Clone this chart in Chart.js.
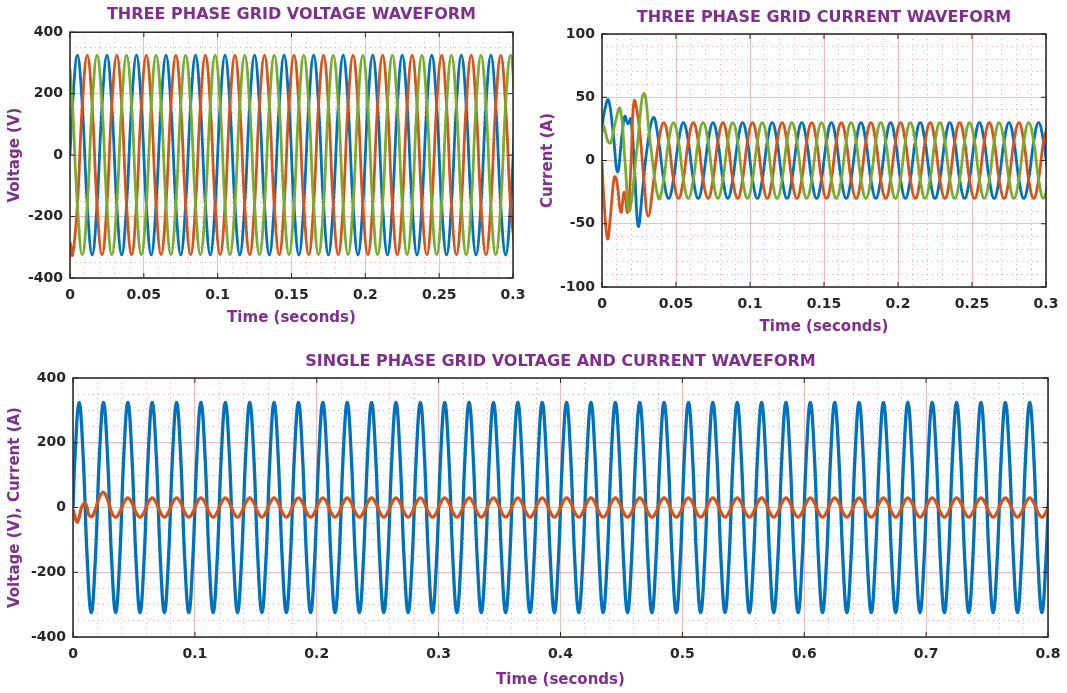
<!DOCTYPE html>
<html>
<head>
<meta charset="utf-8">
<script src="https://cdn.jsdelivr.net/npm/chart.js@4.4.1/dist/chart.umd.min.js"></script>
<style>
  html, body { margin: 0; background: #fff; }
  #page { position: relative; width: 1067px; height: 693px; overflow: hidden; background: #fff; }
  canvas { position: absolute; }
</style>
</head>
<body>
<div id="page">
  <canvas id="tl" width="530" height="340" style="left:0;top:0"></canvas>
  <canvas id="tr" width="537" height="345" style="left:530px;top:0"></canvas>
  <canvas id="bt" width="1067" height="348" style="left:0;top:345px"></canvas>
</div>
<script>
// sample instants in ms: t=0, then every 60 deg of the 50 Hz wave (offset 30 deg)
var tSample = [0,
  1.7, 5, 8.3, 11.7, 15, 18.3,
  21.7, 25, 28.3, 31.7, 35, 38.3,
  41.7, 45, 48.3, 51.7, 55, 58.3,
  61.7, 65, 68.3, 71.7, 75, 78.3,
  81.7, 85, 88.3, 91.7, 95, 98.3,
  101.7, 105, 108.3, 111.7, 115, 118.3,
  121.7, 125, 128.3, 131.7, 135, 138.3,
  141.7, 145, 148.3, 151.7, 155, 158.3,
  161.7, 165, 168.3, 171.7, 175, 178.3,
  181.7, 185, 188.3, 191.7, 195, 198.3,
  201.7, 205, 208.3, 211.7, 215, 218.3,
  221.7, 225, 228.3, 231.7, 235, 238.3,
  241.7, 245, 248.3, 251.7, 255, 258.3,
  261.7, 265, 268.3, 271.7, 275, 278.3,
  281.7, 285, 288.3, 291.7, 295, 298.3,
  301.7, 305, 308.3, 311.7, 315, 318.3,
  321.7, 325, 328.3, 331.7, 335, 338.3,
  341.7, 345, 348.3, 351.7, 355, 358.3,
  361.7, 365, 368.3, 371.7, 375, 378.3,
  381.7, 385, 388.3, 391.7, 395, 398.3,
  401.7, 405, 408.3, 411.7, 415, 418.3,
  421.7, 425, 428.3, 431.7, 435, 438.3,
  441.7, 445, 448.3, 451.7, 455, 458.3,
  461.7, 465, 468.3, 471.7, 475, 478.3,
  481.7, 485, 488.3, 491.7, 495, 498.3,
  501.7, 505, 508.3, 511.7, 515, 518.3,
  521.7, 525, 528.3, 531.7, 535, 538.3,
  541.7, 545, 548.3, 551.7, 555, 558.3,
  561.7, 565, 568.3, 571.7, 575, 578.3,
  581.7, 585, 588.3, 591.7, 595, 598.3,
  601.7, 605, 608.3, 611.7, 615, 618.3,
  621.7, 625, 628.3, 631.7, 635, 638.3,
  641.7, 645, 648.3, 651.7, 655, 658.3,
  661.7, 665, 668.3, 671.7, 675, 678.3,
  681.7, 685, 688.3, 691.7, 695, 698.3,
  701.7, 705, 708.3, 711.7, 715, 718.3,
  721.7, 725, 728.3, 731.7, 735, 738.3,
  741.7, 745, 748.3, 751.7, 755, 758.3,
  761.7, 765, 768.3, 771.7, 775, 778.3,
  781.7, 785, 788.3, 791.7, 795, 798.3,
  801.7];

// grid voltages, V (first 92 samples)
var vaGrid = [0,
  162, 325, 162, -162, -325, -162,
  162, 325, 162, -162, -325, -162,
  162, 325, 162, -162, -325, -162,
  162, 325, 162, -162, -325, -162,
  162, 325, 162, -162, -325, -162,
  162, 325, 162, -162, -325, -162,
  162, 325, 162, -162, -325, -162,
  162, 325, 162, -162, -325, -162,
  162, 325, 162, -162, -325, -162,
  162, 325, 162, -162, -325, -162,
  162, 325, 162, -162, -325, -162,
  162, 325, 162, -162, -325, -162,
  162, 325, 162, -162, -325, -162,
  162, 325, 162, -162, -325, -162,
  162, 325, 162, -162, -325, -162,
  162];
var vbGrid = [-281,
  -325, -162, 162, 325, 162, -162,
  -325, -162, 162, 325, 162, -162,
  -325, -162, 162, 325, 162, -162,
  -325, -162, 162, 325, 162, -162,
  -325, -162, 162, 325, 162, -162,
  -325, -162, 162, 325, 162, -162,
  -325, -162, 162, 325, 162, -162,
  -325, -162, 162, 325, 162, -162,
  -325, -162, 162, 325, 162, -162,
  -325, -162, 162, 325, 162, -162,
  -325, -162, 162, 325, 162, -162,
  -325, -162, 162, 325, 162, -162,
  -325, -162, 162, 325, 162, -162,
  -325, -162, 162, 325, 162, -162,
  -325, -162, 162, 325, 162, -162,
  -325];
var vcGrid = [281,
  162, -162, -325, -162, 162, 325,
  162, -162, -325, -162, 162, 325,
  162, -162, -325, -162, 162, 325,
  162, -162, -325, -162, 162, 325,
  162, -162, -325, -162, 162, 325,
  162, -162, -325, -162, 162, 325,
  162, -162, -325, -162, 162, 325,
  162, -162, -325, -162, 162, 325,
  162, -162, -325, -162, 162, 325,
  162, -162, -325, -162, 162, 325,
  162, -162, -325, -162, 162, 325,
  162, -162, -325, -162, 162, 325,
  162, -162, -325, -162, 162, 325,
  162, -162, -325, -162, 162, 325,
  162, -162, -325, -162, 162, 325,
  162];

// grid currents, A: start-up transient (own instants, ms) ...
var iaStartT = [0, 1.5, 4.3, 7.5, 10.5, 13.5, 15.5, 17.5, 19.5, 22, 24.5, 27.5, 30.5, 34.7, 38.3];
var iaStartV = [25, 38, 48, 22, -9, 20, 35, 29, 33, -8, -52, -22, 10, 34, 15];
var ibStartT = [0, 1.5, 3.8, 6, 8.3, 9.8, 12.8, 15, 17.3, 19.5, 21.7, 25, 28.3, 31.2, 35, 38.3];
var ibStartV = [-2, -35, -62, -40, -13, -15, -41, -25, -41, -5, 47, 28, -15, -44, -15, 15];
var icStartT = [0, 1.2, 4, 6, 8.5, 12.2, 15.5, 18.5, 23.5, 28.3, 33, 38.3];
var icStartV = [22, 27, 15, 14, 28, 41, 0, -40, 8, 53, 10, -30];
// ... then steady state on tSample from 41.7 ms
var iaSteady = [
  -15, -30, -15, 15, 30, 15,
  -15, -30, -15, 15, 30, 15,
  -15, -30, -15, 15, 30, 15,
  -15, -30, -15, 15, 30, 15,
  -15, -30, -15, 15, 30, 15,
  -15, -30, -15, 15, 30, 15,
  -15, -30, -15, 15, 30, 15,
  -15, -30, -15, 15, 30, 15,
  -15, -30, -15, 15, 30, 15,
  -15, -30, -15, 15, 30, 15,
  -15, -30, -15, 15, 30, 15,
  -15, -30, -15, 15, 30, 15,
  -15, -30, -15, 15, 30, 15,
  -15];
var ibSteady = [
  30, 15, -15, -30, -15, 15,
  30, 15, -15, -30, -15, 15,
  30, 15, -15, -30, -15, 15,
  30, 15, -15, -30, -15, 15,
  30, 15, -15, -30, -15, 15,
  30, 15, -15, -30, -15, 15,
  30, 15, -15, -30, -15, 15,
  30, 15, -15, -30, -15, 15,
  30, 15, -15, -30, -15, 15,
  30, 15, -15, -30, -15, 15,
  30, 15, -15, -30, -15, 15,
  30, 15, -15, -30, -15, 15,
  30, 15, -15, -30, -15, 15,
  30];
var icSteady = [
  -15, 15, 30, 15, -15, -30,
  -15, 15, 30, 15, -15, -30,
  -15, 15, 30, 15, -15, -30,
  -15, 15, 30, 15, -15, -30,
  -15, 15, 30, 15, -15, -30,
  -15, 15, 30, 15, -15, -30,
  -15, 15, 30, 15, -15, -30,
  -15, 15, 30, 15, -15, -30,
  -15, 15, 30, 15, -15, -30,
  -15, 15, 30, 15, -15, -30,
  -15, 15, 30, 15, -15, -30,
  -15, 15, 30, 15, -15, -30,
  -15, 15, 30, 15, -15, -30,
  -15];

// single phase: voltage on all of tSample, current transient + steady
var v1Grid = [0,
  162, 325, 162, -162, -325, -162,
  162, 325, 162, -162, -325, -162,
  162, 325, 162, -162, -325, -162,
  162, 325, 162, -162, -325, -162,
  162, 325, 162, -162, -325, -162,
  162, 325, 162, -162, -325, -162,
  162, 325, 162, -162, -325, -162,
  162, 325, 162, -162, -325, -162,
  162, 325, 162, -162, -325, -162,
  162, 325, 162, -162, -325, -162,
  162, 325, 162, -162, -325, -162,
  162, 325, 162, -162, -325, -162,
  162, 325, 162, -162, -325, -162,
  162, 325, 162, -162, -325, -162,
  162, 325, 162, -162, -325, -162,
  162, 325, 162, -162, -325, -162,
  162, 325, 162, -162, -325, -162,
  162, 325, 162, -162, -325, -162,
  162, 325, 162, -162, -325, -162,
  162, 325, 162, -162, -325, -162,
  162, 325, 162, -162, -325, -162,
  162, 325, 162, -162, -325, -162,
  162, 325, 162, -162, -325, -162,
  162, 325, 162, -162, -325, -162,
  162, 325, 162, -162, -325, -162,
  162, 325, 162, -162, -325, -162,
  162, 325, 162, -162, -325, -162,
  162, 325, 162, -162, -325, -162,
  162, 325, 162, -162, -325, -162,
  162, 325, 162, -162, -325, -162,
  162, 325, 162, -162, -325, -162,
  162, 325, 162, -162, -325, -162,
  162, 325, 162, -162, -325, -162,
  162, 325, 162, -162, -325, -162,
  162, 325, 162, -162, -325, -162,
  162, 325, 162, -162, -325, -162,
  162, 325, 162, -162, -325, -162,
  162, 325, 162, -162, -325, -162,
  162, 325, 162, -162, -325, -162,
  162, 325, 162, -162, -325, -162,
  162];
var i1StartT = [0, 1.7, 3.3, 5, 7, 9.5, 11, 13, 15.5, 18.5, 21.7, 25, 28.3, 31.7, 35, 38.3];
var i1StartV = [-5, -30, -45, -32, 0, 14, 6, -22, -28, -5, 32, 47, 25, -15, -30, -15];
var i1Steady = [
  15, 30, 15, -15, -30, -15,
  15, 30, 15, -15, -30, -15,
  15, 30, 15, -15, -30, -15,
  15, 30, 15, -15, -30, -15,
  15, 30, 15, -15, -30, -15,
  15, 30, 15, -15, -30, -15,
  15, 30, 15, -15, -30, -15,
  15, 30, 15, -15, -30, -15,
  15, 30, 15, -15, -30, -15,
  15, 30, 15, -15, -30, -15,
  15, 30, 15, -15, -30, -15,
  15, 30, 15, -15, -30, -15,
  15, 30, 15, -15, -30, -15,
  15, 30, 15, -15, -30, -15,
  15, 30, 15, -15, -30, -15,
  15, 30, 15, -15, -30, -15,
  15, 30, 15, -15, -30, -15,
  15, 30, 15, -15, -30, -15,
  15, 30, 15, -15, -30, -15,
  15, 30, 15, -15, -30, -15,
  15, 30, 15, -15, -30, -15,
  15, 30, 15, -15, -30, -15,
  15, 30, 15, -15, -30, -15,
  15, 30, 15, -15, -30, -15,
  15, 30, 15, -15, -30, -15,
  15, 30, 15, -15, -30, -15,
  15, 30, 15, -15, -30, -15,
  15, 30, 15, -15, -30, -15,
  15, 30, 15, -15, -30, -15,
  15, 30, 15, -15, -30, -15,
  15, 30, 15, -15, -30, -15,
  15, 30, 15, -15, -30, -15,
  15, 30, 15, -15, -30, -15,
  15, 30, 15, -15, -30, -15,
  15, 30, 15, -15, -30, -15,
  15, 30, 15, -15, -30, -15,
  15, 30, 15, -15, -30, -15,
  15, 30, 15, -15, -30, -15,
  15];
var STEADY_FROM = 13; // index of 41.7 ms in tSample

var xLabels3 = ['0', '0.05', '0.1', '0.15', '0.2', '0.25', '0.3'];
var xLabels8 = ['0', '0.1', '0.2', '0.3', '0.4', '0.5', '0.6', '0.7', '0.8'];
var vLabels = ['-400', '-200', '0', '200', '400'];
var iLabels = ['-100', '-50', '0', '50', '100'];

var BLUE = '#0072BD', ORANGE = '#D95319', GREEN = '#77AC30';
var PURPLE = '#7E2F8E', INK = '#262626';
var FONT = "'DejaVu Sans', sans-serif";

function onSample(vals, from) {
  return vals.map(function (v, i) { return {x: tSample[from + i], y: v}; });
}
function zip(ts, vs) {
  return ts.map(function (t, i) { return {x: t, y: vs[i]}; });
}

var framePlugin = {
  id: 'frame',
  afterDraw: function (chart, args, opts) {
    var ctx = chart.ctx, a = chart.chartArea, sx = chart.scales.x, sy = chart.scales.y;
    ctx.save();
    ctx.strokeStyle = INK;
    ctx.lineWidth = 1;
    ctx.beginPath();
    for (var v = sx.min; v <= sx.max + 1e-9; v += opts.xMajor) {
      var px = sx.getPixelForValue(v);
      ctx.moveTo(px, a.bottom); ctx.lineTo(px, a.bottom - 5);
      ctx.moveTo(px, a.top); ctx.lineTo(px, a.top + 5);
    }
    for (var w = sy.min; w <= sy.max + 1e-9; w += opts.yMajor) {
      var py = sy.getPixelForValue(w);
      ctx.moveTo(a.left, py); ctx.lineTo(a.left + 5, py);
      ctx.moveTo(a.right, py); ctx.lineTo(a.right - 5, py);
    }
    ctx.stroke();
    ctx.lineWidth = 1.5;
    ctx.strokeRect(a.left, a.top, a.right - a.left, a.bottom - a.top);
    ctx.restore();
  }
};

function gridFor(major, min) {
  var isMajor = function (ctx) { return ctx.tick && (ctx.tick.value - min) % major === 0; };
  return {
    grid: {
      drawTicks: false,
      lineWidth: 1,
      color: function (ctx) { return isMajor(ctx) ? 'rgba(230,90,90,0.42)' : 'rgba(240,100,110,0.55)'; }
    },
    border: {
      display: false,
      dash: function (ctx) { return ctx.tick && !isMajor(ctx) ? [1, 4] : []; }
    }
  };
}

function waveChart(id, o) {
  var xg = gridFor(o.xMajor, 0), yg = gridFor(o.yMajor, o.yMin);
  new Chart(document.getElementById(id), {
    type: 'line',
    data: {
      datasets: o.series.map(function (s) {
        return {
          data: s.pts, borderColor: s.color, borderWidth: o.lw,
          pointRadius: 0, fill: false, order: s.order,
          tension: 0.42
        };
      })
    },
    options: {
      responsive: false,
      animation: false,
      events: [],
      layout: {padding: {left: 0, top: 0, bottom: 0, right: o.padRight}},
      plugins: {
        legend: {display: false},
        tooltip: {enabled: false},
        title: {
          display: true, text: o.title, color: PURPLE, fullSize: false,
          font: {family: FONT, size: 16, weight: 'bold', lineHeight: 1.2},
          padding: {top: o.titleTop, bottom: o.titleBottom}
        },
        frame: {xMajor: o.xMajor, yMajor: o.yMajor}
      },
      scales: {
        x: {
          type: 'linear', min: 0, max: o.xMax,
          grid: xg.grid, border: xg.border,
          ticks: {
            stepSize: o.xMinor, maxTicksLimit: 1000, autoSkip: false,
            maxRotation: 0, minRotation: 0, padding: 9, color: INK,
            font: {family: FONT, size: 14, weight: 'bold'},
            callback: function (v) { return v % o.xMajor === 0 ? o.xLabels[v / o.xMajor] : ''; }
          },
          title: {
            display: true, text: 'Time (seconds)', color: PURPLE,
            font: {family: FONT, size: 15, weight: 'bold', lineHeight: 1.2},
            padding: {top: 0, bottom: o.xTitlePad}
          },
          afterFit: function (sc) { sc.height = o.xAxisH; sc.paddingLeft = 0; sc.paddingRight = 0; }
        },
        y: {
          type: 'linear', min: o.yMin, max: -o.yMin,
          grid: yg.grid, border: yg.border,
          ticks: {
            stepSize: o.yMinor, maxTicksLimit: 1000, autoSkip: false,
            padding: 7, color: INK,
            font: {family: FONT, size: 14, weight: 'bold'},
            callback: function (v) { return (v - o.yMin) % o.yMajor === 0 ? o.yLabels[(v - o.yMin) / o.yMajor] : ''; }
          },
          title: {
            display: true, text: o.yTitle, color: PURPLE,
            font: {family: FONT, size: 15, weight: 'bold', lineHeight: 1.2},
            padding: {top: o.yTitlePad, bottom: 0}
          },
          afterFit: function (sc) { sc.width = o.yAxisW; sc.paddingTop = 0; sc.paddingBottom = 0; }
        }
      }
    },
    plugins: [framePlugin]
  });
}

waveChart('tl', {
  title: 'THREE PHASE GRID VOLTAGE WAVEFORM', yTitle: 'Voltage (V)',
  series: [
    {pts: onSample(vaGrid, 0), color: BLUE, order: 3},
    {pts: onSample(vbGrid, 0), color: ORANGE, order: 2},
    {pts: onSample(vcGrid, 0), color: GREEN, order: 1}
  ],
  lw: 2.8, xMax: 300, xMinor: 10, xMajor: 50, xLabels: xLabels3,
  yMin: -400, yMinor: 50, yMajor: 200, yLabels: vLabels,
  padRight: 17, titleTop: 5, titleBottom: 8, xAxisH: 62, xTitlePad: 13, yAxisW: 70, yTitlePad: 6
});

waveChart('tr', {
  title: 'THREE PHASE GRID CURRENT WAVEFORM', yTitle: 'Current (A)',
  series: [
    {pts: zip(iaStartT, iaStartV).concat(onSample(iaSteady, STEADY_FROM)), color: BLUE, order: 3},
    {pts: zip(ibStartT, ibStartV).concat(onSample(ibSteady, STEADY_FROM)), color: ORANGE, order: 2},
    {pts: zip(icStartT, icStartV).concat(onSample(icSteady, STEADY_FROM)), color: GREEN, order: 1}
  ],
  lw: 2.8, xMax: 300, xMinor: 10, xMajor: 50, xLabels: xLabels3,
  yMin: -100, yMinor: 10, yMajor: 50, yLabels: iLabels,
  padRight: 21, titleTop: 8, titleBottom: 6.8, xAxisH: 58, xTitlePad: 9, yAxisW: 72, yTitlePad: 9
});

waveChart('bt', {
  title: 'SINGLE PHASE GRID VOLTAGE AND CURRENT WAVEFORM', yTitle: 'Voltage (V), Current (A)',
  series: [
    {pts: onSample(v1Grid, 0), color: BLUE, order: 2},
    {pts: zip(i1StartT, i1StartV).concat(onSample(i1Steady, STEADY_FROM)), color: ORANGE, order: 1}
  ],
  lw: 3.3, xMax: 800, xMinor: 20, xMajor: 100, xLabels: xLabels8,
  yMin: -400, yMinor: 50, yMajor: 200, yLabels: vLabels,
  padRight: 19, titleTop: 7, titleBottom: 6.8, xAxisH: 56, xTitlePad: 4, yAxisW: 73, yTitlePad: 6
});
</script>
</body>
</html>
